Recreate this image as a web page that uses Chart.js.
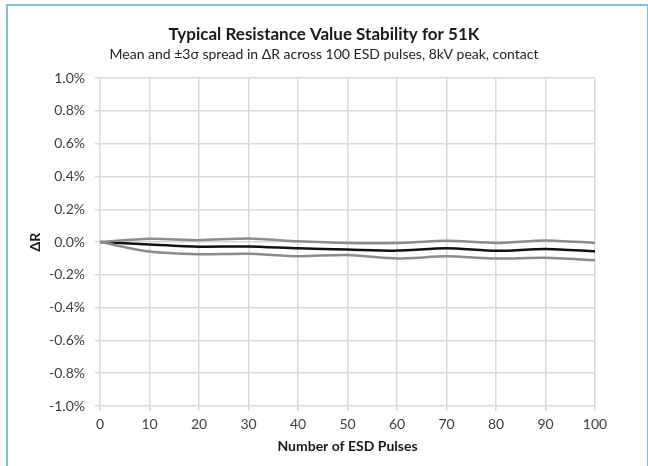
<!DOCTYPE html>
<html>
<head>
<meta charset="utf-8">
<script src="https://cdn.jsdelivr.net/npm/chart.js@4"></script>
<style>
  body { margin: 0; background: #fff; }
  #wrap { position: relative; width: 648px; height: 466px; overflow: hidden; }
  #frame { position: absolute; left: 6px; top: 4px; width: 639px; height: 480px;
           border: 2px solid #7cc3e6; border-bottom: none; pointer-events: none; }
  canvas { position: absolute; left: 0; top: 0; }
</style>
</head>
<body>
<div id="wrap">
  <canvas id="stabilityChart" width="648" height="466"></canvas>
  <div id="frame"></div>
</div>
<script>
const pulses = [0, 10, 20, 30, 40, 50, 60, 70, 80, 90, 100];
const upperSpread = [0, 0.020, 0.012, 0.022, 0.005, -0.005, -0.005, 0.008, -0.005, 0.010, -0.005];
const meanShift = [0, -0.015, -0.028, -0.027, -0.038, -0.045, -0.052, -0.037, -0.053, -0.042, -0.056];
const lowerSpread = [0, -0.058, -0.074, -0.071, -0.086, -0.079, -0.100, -0.087, -0.100, -0.096, -0.110];

const fontName = 'Lato, "Open Sans", sans-serif';
const gridColor = '#d9d9d9';
const textColor = '#404040';

function toPoints(values) {
  return pulses.map((p, i) => ({ x: p, y: values[i] }));
}

function lineSet(label, values, color) {
  return {
    label: label,
    data: toPoints(values),
    borderColor: color,
    borderWidth: 2.5,
    pointRadius: 0,
    tension: 0.25,
    fill: false
  };
}

new Chart(document.getElementById('stabilityChart'), {
  type: 'line',
  data: {
    datasets: [
      lineSet('+3σ', upperSpread, '#8c8c8c'),
      lineSet('-3σ', lowerSpread, '#8c8c8c'),
      lineSet('Mean', meanShift, '#111111')
    ]
  },
  options: {
    responsive: false,
    animation: false,
    layout: { padding: { top: 24, right: 0, bottom: 0, left: 0 } },
    plugins: {
      legend: { display: false },
      tooltip: { enabled: false },
      title: {
        display: true,
        text: 'Typical Resistance Value Stability for 51K',
        color: '#1a1a1a',
        font: { family: fontName, size: 17, weight: 'bold' },
        padding: { top: 0, bottom: 2 }
      },
      subtitle: {
        display: true,
        text: 'Mean and ±3σ spread in ΔR across 100 ESD pulses, 8kV peak, contact',
        color: '#222',
        font: { family: fontName, size: 14 },
        padding: { top: 0, bottom: 15 }
      }
    },
    scales: {
      x: {
        type: 'linear',
        min: 0,
        max: 100,
        afterFit: scale => { scale.height = 60; },
        ticks: {
          stepSize: 10,
          color: textColor,
          padding: 5,
          font: { family: fontName, size: 14 }
        },
        grid: { color: gridColor, lineWidth: 1.5, tickLength: 5 },
        border: { display: false },
        title: {
          display: true,
          text: 'Number of ESD Pulses',
          color: '#1a1a1a',
          font: { family: fontName, size: 14, weight: 'bold' },
          padding: { top: 0, bottom: 11 }
        }
      },
      y: {
        min: -1,
        max: 1,
        afterFit: scale => { scale.width = 100; },
        ticks: {
          stepSize: 0.2,
          color: textColor,
          padding: 10,
          font: { family: fontName, size: 14 },
          callback: value => value.toFixed(1) + '%'
        },
        grid: { color: gridColor, lineWidth: 1.5, tickLength: 5 },
        border: { display: false },
        title: {
          display: true,
          text: 'ΔR',
          color: '#1a1a1a',
          font: { family: fontName, size: 14, weight: 'bold' },
          padding: { top: 27, bottom: 0 }
        }
      },
      // empty right-hand axis, only to keep the plot area narrower than the title band
      spacer: {
        position: 'right',
        min: -1,
        max: 1,
        afterFit: scale => { scale.width = 53; },
        ticks: { display: false },
        grid: { display: false, drawTicks: false },
        border: { display: false }
      }
    }
  }
});
</script>
</body>
</html>
